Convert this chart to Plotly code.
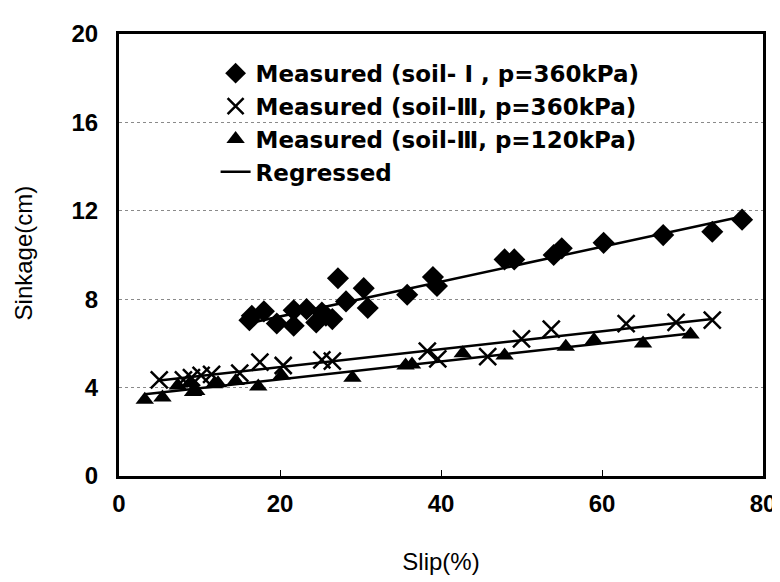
import numpy as np
import plotly.graph_objects as go

# ---- data ----
slip_s1_360 = [16.2, 16.5, 18.0, 19.6, 21.7, 21.7, 23.3, 24.5, 25.2, 25.7, 26.5, 27.2, 28.2,
               30.4, 30.9, 35.8, 39.0, 39.5, 47.9, 49.1, 54.0, 55.0, 60.2, 67.6, 73.7, 77.4]
sink_s1_360 = [7.05, 7.25, 7.45, 6.9, 6.8, 7.5, 7.55, 6.95, 7.4, 7.25, 7.1, 8.95, 7.9,
               8.5, 7.6, 8.2, 9.0, 8.6, 9.8, 9.8, 10.0, 10.3, 10.55, 10.9, 11.05, 11.6]

slip_s3_360 = [5.0, 8.0, 9.0, 10.2, 11.5, 15.0, 17.5, 20.4, 25.2, 26.5, 38.3, 39.6, 45.8,
               50.0, 53.7, 63.0, 69.2, 73.7]
sink_s3_360 = [4.35, 4.35, 4.45, 4.55, 4.6, 4.65, 5.15, 5.0, 5.25, 5.2, 5.65, 5.3, 5.4,
               6.2, 6.65, 6.9, 6.95, 7.05]

slip_s3_120 = [3.2, 5.4, 7.3, 8.8, 9.2, 9.6, 11.8, 12.3, 14.5, 17.3, 20.2, 29.0, 35.6,
               36.4, 42.7, 47.9, 55.5, 59.0, 65.1, 71.0]
sink_s3_120 = [3.45, 3.55, 4.1, 4.2, 3.8, 3.85, 4.15, 4.2, 4.3, 4.05, 4.55, 4.45, 5.0,
               5.05, 5.55, 5.45, 5.85, 6.15, 6.0, 6.4]

names = ["Measured (soil- Ⅰ , p=360kPa)",
         "Measured (soil-Ⅲ, p=360kPa)",
         "Measured (soil-Ⅲ, p=120kPa)"]
x_ticks = [0, 20, 40, 60, 80]
y_ticks = [0, 4, 8, 12, 16, 20]

series = [(slip_s1_360, sink_s1_360, "diamond", 17, "black", 0),
          (slip_s3_360, sink_s3_360, "x-thin", 17, "black", 2.5),
          (slip_s3_120, sink_s3_120, "triangle-up", 16, "black", 0)]

fig = go.Figure()
for (xs, ys, sym, sz, col, lw), nm in zip(series, names):
    marker = dict(symbol=sym, size=sz, color=col)
    if sym == "x-thin":
        marker["line"] = dict(color=col, width=lw)
    fig.add_trace(go.Scatter(x=xs, y=ys, mode="markers", name=nm, marker=marker))

for i, (xs, ys, *_rest) in enumerate(series):
    k, b = np.polyfit(xs, ys, 1)
    xl = [min(xs), max(xs)]
    fig.add_trace(go.Scatter(x=xl, y=[k * v + b for v in xl], mode="lines",
                             line=dict(color="black", width=2.5),
                             name="Regressed", legendgroup="reg", showlegend=(i == 0)))

font = "Liberation Sans, Arial, sans-serif"
lfont = "DejaVu Sans, sans-serif"
fig.update_layout(
    width=780, height=582,
    margin=dict(l=111, r=19, t=19, b=114),
    paper_bgcolor="white", plot_bgcolor="white",
    font=dict(family=font, color="black"),
    showlegend=True,
    legend=dict(x=0.15, y=0.96, xanchor="left", yanchor="top",
                bgcolor="rgba(0,0,0,0)", font=dict(size=23, family=lfont, weight="bold"),
                itemwidth=30, tracegroupgap=0),
    xaxis=dict(range=[0, 80], tickvals=x_ticks, showgrid=False, zeroline=False,
               showline=True, linecolor="black", linewidth=3, mirror=True,
               ticks="inside", ticklen=6, tickwidth=1, tickcolor="black",
               tickfont=dict(size=24, family=font, weight="bold"),
               ticklabelstandoff=4,
               title=dict(text="Slip(%)", font=dict(size=24, family=font), standoff=38)),
    yaxis=dict(range=[0, 20], tickvals=y_ticks, showgrid=True, gridcolor="#8a8a8a",
               griddash="dot", gridwidth=1, zeroline=False,
               showline=True, linecolor="black", linewidth=3, mirror=True,
               ticks="", tickfont=dict(size=24, family=font, weight="bold"),
               ticklabelstandoff=13),
    annotations=[dict(text="Sinkage(cm)", x=0, y=0, xref="paper", yref="paper",
                      xanchor="center", yanchor="middle",
                      showarrow=False, textangle=-90, font=dict(size=24, family=font))],
)
# place y title annotation via pixel -> paper conversion
ph = 582 - 19 - 114
pw = 780 - 111 - 19
fig.layout.annotations[0].x = (15 - 111) / pw
fig.layout.annotations[0].y = (468 - 241) / ph

fig.write_html("out.html")
